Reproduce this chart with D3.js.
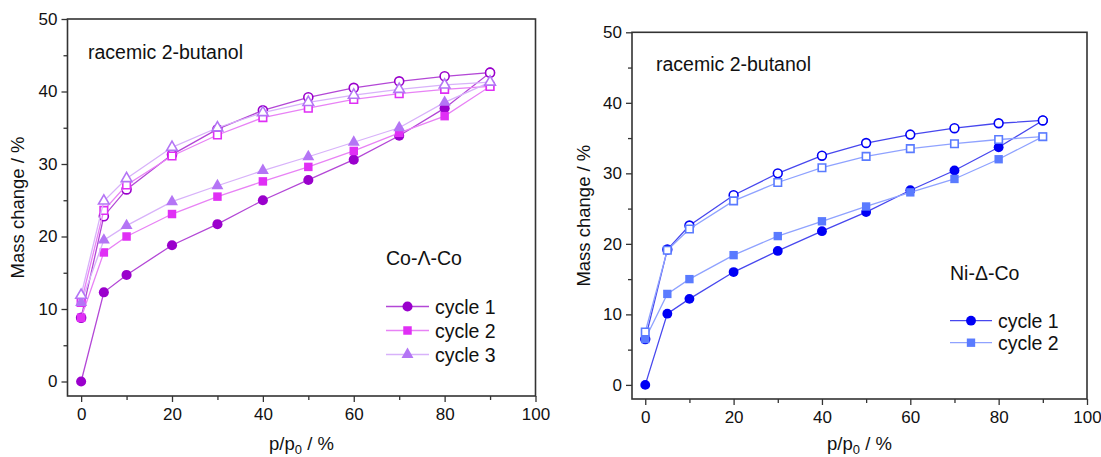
<!DOCTYPE html>
<html><head><meta charset="utf-8">
<script src="https://cdn.jsdelivr.net/npm/d3@7"></script>
<style>
body{margin:0;background:#fff}
text{font-family:"Liberation Sans",Arial,Helvetica,sans-serif;fill:#111}
</style></head>
<body><svg id="c" width="1101" height="457"></svg>
<script>
// ---------- data ----------
const pressure = [0, 5, 10, 20, 30, 40, 50, 60, 70, 80, 90];
const xMajorTicks = [0, 20, 40, 60, 80, 100];
const xMinorTicks = [10, 30, 50, 70, 90];
const yMajorTicks = [0, 10, 20, 30, 40, 50];
const yMinorTicks = [5, 15, 25, 35, 45];

// Co-Λ-Co (left panel) — adsorption / desorption values at each pressure
const coCycle1Ads = [0, 12.3, 14.7, 18.8, 21.7, 25.0, 27.8, 30.6, 33.9, 37.7, 42.6];
const coCycle1Des = [8.8, 22.8, 26.5, 31.3, 34.8, 37.4, 39.2, 40.5, 41.4, 42.1, 42.6];
const coCycle2Ads = [8.8, 17.8, 20.0, 23.1, 25.5, 27.6, 29.6, 31.8, 34.3, 36.6, 40.7];
const coCycle2Des = [10.9, 23.6, 27.1, 31.1, 34.0, 36.4, 37.7, 38.9, 39.7, 40.3, 40.7];
const coCycle3Ads = [10.9, 19.5, 21.5, 24.8, 27.0, 29.1, 31.0, 33.0, 35.0, 38.5, 41.3];
const coCycle3Des = [11.9, 24.9, 28.0, 32.3, 35.0, 37.1, 38.5, 39.5, 40.3, 40.9, 41.3];

// Ni-Δ-Co (right panel)
const niCycle1Ads = [0, 10.1, 12.2, 16.0, 19.0, 21.8, 24.5, 27.6, 30.4, 33.7, 37.5];
const niCycle1Des = [6.5, 19.2, 22.6, 26.9, 30.0, 32.5, 34.3, 35.5, 36.4, 37.1, 37.5];
const niCycle2Ads = [6.5, 12.9, 15.0, 18.4, 21.1, 23.2, 25.3, 27.3, 29.2, 32.0, 35.2];
const niCycle2Des = [7.5, 19.1, 22.1, 26.1, 28.7, 30.8, 32.4, 33.5, 34.2, 34.8, 35.2];

const coLegend = ["cycle 1", "cycle 2", "cycle 3"];
const niLegend = ["cycle 1", "cycle 2"];

// ---------- drawing ----------
const svg = d3.select("#c");

const panels = [
  {
    box: {l: 67.5, r: 535.5, t: 19, b: 396},
    title: "racemic 2-butanol", titlePos: [88, 58.5],
    sample: "Co-\u039B-Co", samplePos: [386, 264.5],
    yTitleX: 18,
    legend: {x1: 386, x2: 429, tx: 435, ys: [306.5, 330.5, 354.5]},
    series: [
      {name: coLegend[0], ads: coCycle1Ads, des: coCycle1Des, sym: d3.symbolCircle, size: 80, mc: "#9a00cc", lc: "#b347d6"},
      {name: coLegend[1], ads: coCycle2Ads, des: coCycle2Des, sym: d3.symbolSquare, size: 72, mc: "#e02ff5", lc: "#e882f5"},
      {name: coLegend[2], ads: coCycle3Ads, des: coCycle3Des, sym: d3.symbolTriangle, size: 62, mc: "#b475f5", lc: "#d8b2fa"}
    ]
  },
  {
    box: {l: 632, r: 1087, t: 32.3, b: 399},
    title: "racemic 2-butanol", titlePos: [656, 70.5],
    sample: "Ni-\u0394-Co", samplePos: [950, 279.5],
    yTitleX: 584,
    legend: {x1: 950, x2: 992, tx: 998, ys: [320.7, 342.7]},
    series: [
      {name: niLegend[0], ads: niCycle1Ads, des: niCycle1Des, sym: d3.symbolCircle, size: 76, mc: "#0000f5", lc: "#4747ee"},
      {name: niLegend[1], ads: niCycle2Ads, des: niCycle2Des, sym: d3.symbolSquare, size: 70, mc: "#5a7bff", lc: "#8fa2ff"}
    ]
  }
];

panels.forEach(p => {
  const g = svg.append("g");
  const x = d3.scaleLinear().domain([-3, 100]).range([p.box.l, p.box.r]);
  const y = d3.scaleLinear().domain([-2, 50]).range([p.box.b, p.box.t]);

  // axes
  const yAx = g.append("g").attr("transform", `translate(${p.box.l},0)`)
    .call(d3.axisLeft(y).tickValues(yMajorTicks).tickSize(6).tickPadding(4).tickFormat(d3.format("d")));
  const yAxMin = g.append("g").attr("transform", `translate(${p.box.l},0)`)
    .call(d3.axisLeft(y).tickValues(yMinorTicks).tickSize(4).tickFormat(""));
  const xAx = g.append("g").attr("transform", `translate(0,${p.box.b})`)
    .call(d3.axisBottom(x).tickValues(xMajorTicks).tickSize(6).tickPadding(6).tickFormat(d3.format("d")));
  const xAxMin = g.append("g").attr("transform", `translate(0,${p.box.b})`)
    .call(d3.axisBottom(x).tickValues(xMinorTicks).tickSize(4).tickFormat(""));
  [yAx, yAxMin, xAx, xAxMin].forEach(a => {
    a.select(".domain").remove();
    a.selectAll(".tick line").attr("stroke", "#333").attr("stroke-width", 1.3);
    a.selectAll(".tick text").style("font-size", "17px").style("font-family", "'Liberation Sans',Arial,sans-serif").attr("fill", "#222");
  });

  // frame
  g.append("rect").attr("x", p.box.l).attr("y", p.box.t)
    .attr("width", p.box.r - p.box.l).attr("height", p.box.b - p.box.t)
    .attr("fill", "none").attr("stroke", "#333").attr("stroke-width", 1.6);

  // series
  const line = d3.line().x(d => x(d[0])).y(d => y(d[1]));
  p.series.forEach(s => {
    const adsPts = pressure.map((v, i) => [v, s.ads[i]]);
    const desPts = pressure.map((v, i) => [v, s.des[i]]).reverse();
    g.append("path").attr("d", line(adsPts.concat(desPts)))
      .attr("fill", "none").attr("stroke", s.lc).attr("stroke-width", 1.3);
    const sym = d3.symbol().type(s.sym).size(s.size);
    g.selectAll(null).data(adsPts).join("path")
      .attr("transform", d => `translate(${x(d[0])},${y(d[1])})`)
      .attr("d", sym).attr("fill", s.mc);
    g.selectAll(null).data(desPts).join("path")
      .attr("transform", d => `translate(${x(d[0])},${y(d[1])})`)
      .attr("d", d3.symbol().type(s.sym).size(s.size * 0.8)).attr("fill", "#fff")
      .attr("stroke", s.mc).attr("stroke-width", 1.6);
  });

  // legend
  p.series.forEach((s, i) => {
    const ly = p.legend.ys[i];
    g.append("line").attr("x1", p.legend.x1).attr("x2", p.legend.x2)
      .attr("y1", ly).attr("y2", ly).attr("stroke", s.lc).attr("stroke-width", 1.3);
    g.append("path").attr("transform", `translate(${(p.legend.x1 + p.legend.x2) / 2},${ly})`)
      .attr("d", d3.symbol().type(s.sym).size(s.size)).attr("fill", s.mc);
    g.append("text").attr("x", p.legend.tx).attr("y", ly + 7)
      .style("font-size", "19.5px").text(s.name);
  });

  // texts
  g.append("text").attr("x", p.titlePos[0]).attr("y", p.titlePos[1])
    .style("font-size", "19.5px").text(p.title);
  g.append("text").attr("x", p.samplePos[0]).attr("y", p.samplePos[1])
    .style("font-size", "19.5px").text(p.sample);

  const cy = (p.box.t + p.box.b) / 2;
  g.append("text").attr("transform", `translate(${p.yTitleX + 6},${cy}) rotate(-90)`)
    .attr("text-anchor", "middle").style("font-size", "18.5px").text("Mass change / %");

  const xt = g.append("text").attr("x", (p.box.l + p.box.r) / 2).attr("y", 450)
    .attr("text-anchor", "middle").style("font-size", "18.5px");
  xt.append("tspan").text("p/p");
  xt.append("tspan").attr("dy", 4).style("font-size", "13px").text("0");
  xt.append("tspan").attr("dy", -4).text(" / %");
});
</script></body></html>
